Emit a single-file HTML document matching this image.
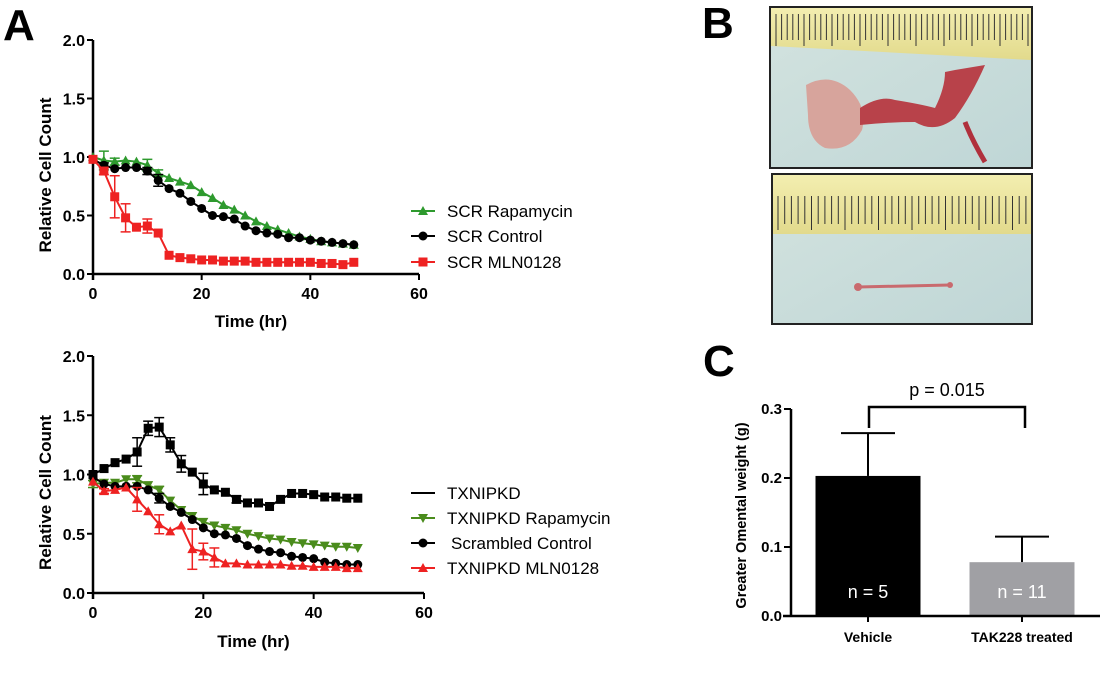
<!DOCTYPE html>
<html><head><meta charset="utf-8"><style>
body{margin:0;background:#fff;}
svg{display:block;font-family:"Liberation Sans",Arial,sans-serif;}
</style></head><body>
<svg id="fig" width="1100" height="673" viewBox="0 0 1100 673">
<defs>
<linearGradient id="cloth" x1="0" y1="0" x2="1" y2="1"><stop offset="0" stop-color="#d3e3df"/><stop offset="1" stop-color="#bfd6d6"/></linearGradient>
<linearGradient id="ruler" x1="0" y1="0" x2="0" y2="1"><stop offset="0" stop-color="#f3eeb0"/><stop offset="1" stop-color="#e2da8c"/></linearGradient>
</defs>
<text x="3" y="40" font-size="44" font-weight="bold">A</text>
<text x="702" y="38" font-size="44" font-weight="bold">B</text>
<text x="703" y="376" font-size="44" font-weight="bold">C</text>
<g>
<rect x="770" y="7" width="262" height="161" fill="url(#cloth)" stroke="#222" stroke-width="2"/>
<polygon points="771,8 1031,8 1031,60 771,46" fill="url(#ruler)"/>
<g id="rtick1" stroke="#333" stroke-width="1"></g>
<path d="M806,85 Q830,72 850,90 Q868,108 862,130 Q850,152 825,148 Q808,140 808,115 Z" fill="#d7a49c"/>
<path d="M860,108 Q880,95 895,100 Q920,104 935,108 Q945,88 945,72 L955,70 L985,65 Q972,95 955,118 Q935,134 915,122 Q890,122 860,125 Z" fill="#b8424a"/>
<path d="M965,122 Q972,140 985,162" stroke="#b0303c" stroke-width="5" fill="none"/>
</g>
<g>
<rect x="772" y="174" width="260" height="150" fill="url(#cloth)" stroke="#222" stroke-width="2"/>
<rect x="773" y="175" width="258" height="59" fill="url(#ruler)"/>
<g id="rtick2" stroke="#333" stroke-width="1"></g>
<path d="M858,287 L950,285" stroke="#c96a6e" stroke-width="3"/>
<circle cx="858" cy="287" r="4" fill="#c96a6e"/><circle cx="950" cy="285" r="3" fill="#c96a6e"/>
</g>
<g id="charts"></g>
</svg>
<script>
const NS="http://www.w3.org/2000/svg";
const times=[0,2,4,6,8,10,12,14,16,18,20,22,24,26,28,30,32,34,36,38,40,42,44,46,48];
const scrRapa=[1.0,0.97,0.96,0.97,0.96,0.93,0.86,0.82,0.79,0.76,0.70,0.65,0.59,0.55,0.50,0.45,0.41,0.38,0.35,0.32,0.30,0.28,0.27,0.26,0.25];
const scrRapaErr=[0,0.08,0.03,0,0,0.05,0.03,0,0,0,0,0,0,0,0,0,0,0,0,0,0,0,0,0,0];
const scrCtrl=[0.98,0.93,0.90,0.91,0.91,0.88,0.80,0.73,0.69,0.62,0.56,0.50,0.49,0.47,0.41,0.37,0.35,0.34,0.31,0.31,0.29,0.28,0.27,0.26,0.25];
const scrCtrlErr=[0,0.02,0,0,0,0.03,0.05,0,0,0,0,0,0,0,0,0,0,0,0,0,0,0,0,0,0];
const scrMln=[0.98,0.88,0.66,0.48,0.40,0.41,0.35,0.16,0.14,0.13,0.12,0.12,0.11,0.11,0.11,0.10,0.10,0.10,0.10,0.10,0.10,0.09,0.09,0.08,0.10];
const scrMlnErr=[0,0.03,0.18,0.12,0,0.06,0,0,0,0,0,0,0,0,0,0,0,0,0,0,0,0,0,0,0];
const kd=[1.0,1.05,1.10,1.13,1.19,1.39,1.40,1.25,1.09,1.02,0.92,0.87,0.85,0.79,0.76,0.76,0.73,0.79,0.84,0.84,0.83,0.81,0.81,0.80,0.80];
const kdErr=[0,0,0,0,0.12,0.06,0.08,0.06,0.07,0,0.09,0,0,0.03,0,0,0,0,0,0,0,0,0,0,0];
const kdRapa=[0.92,0.93,0.93,0.96,0.96,0.91,0.87,0.78,0.70,0.65,0.60,0.57,0.55,0.53,0.50,0.48,0.46,0.45,0.43,0.42,0.41,0.40,0.39,0.39,0.38];
const kdRapaErr=[0.03,0,0,0,0.03,0,0.03,0,0,0,0,0,0,0,0,0,0,0,0,0,0,0,0,0,0];
const scrambled=[0.98,0.92,0.90,0.90,0.90,0.87,0.80,0.73,0.68,0.62,0.55,0.50,0.49,0.46,0.40,0.37,0.35,0.34,0.31,0.30,0.29,0.26,0.25,0.24,0.24];
const scrambledErr=[0,0,0,0,0,0,0.04,0,0,0,0,0,0,0,0,0,0,0,0,0,0,0,0,0,0];
const kdMln=[0.94,0.86,0.87,0.89,0.79,0.69,0.58,0.52,0.57,0.37,0.35,0.30,0.25,0.25,0.24,0.24,0.24,0.24,0.23,0.23,0.22,0.22,0.22,0.21,0.21];
const kdMlnErr=[0,0.02,0,0,0.10,0,0.08,0,0,0.17,0.07,0.08,0,0,0,0,0,0,0,0,0,0,0,0,0];
const xTicks=[0,20,40,60];
const yTicks=[0.0,0.5,1.0,1.5,2.0];
const barCats=["Vehicle","TAK228 treated"];
const barVals=[0.203,0.078];
const barErr=[0.062,0.037];
const barN=["n = 5","n = 11"];
const barTicks=[0.0,0.1,0.2,0.3];

const root=document.getElementById('charts');
function mk(tag,attrs,parent,text){const e=document.createElementNS(NS,tag);for(const k in attrs)e.setAttribute(k,attrs[k]);if(text!==undefined)e.textContent=text;(parent||root).appendChild(e);return e;}

function ruler(id,x0,x1,y0,len,step){const g=document.getElementById(id);for(let x=x0,i=0;x<x1;x+=step,i++){mk('line',{x1:x,y1:y0,x2:x,y2:y0+(i%5==0?len+6:len)},g);}}
ruler('rtick1',776,1030,14,26,5.6);
ruler('rtick2',778,1030,196,28,6.7);

function marker(g,shape,x,y,c){
  if(shape==='circle')mk('circle',{cx:x,cy:y,r:4.5,fill:c},g);
  else if(shape==='square')mk('rect',{x:x-4.5,y:y-4.5,width:9,height:9,fill:c},g);
  else if(shape==='up')mk('polygon',{points:`${x},${y-5} ${x-5},${y+4} ${x+5},${y+4}`,fill:c},g);
  else if(shape==='down')mk('polygon',{points:`${x},${y+5} ${x-5},${y-4} ${x+5},${y-4}`,fill:c},g);
}

function lineChart(name,x0,x60,y0,y2,series,legend,titleDy){
  const g=mk('g',{});
  
  
  const sx=v=>x0+(x60-x0)*v/60, sy=v=>y0-(y0-y2)*v/2;
  mk('line',{x1:x0,y1:y2,x2:x0,y2:y0+6,stroke:'#000','stroke-width':2.5},g);
  mk('line',{x1:x0,y1:y0,x2:x60,y2:y0,stroke:'#000','stroke-width':2.5},g);
  yTicks.forEach(t=>{mk('line',{x1:x0-6,y1:sy(t),x2:x0,y2:sy(t),stroke:'#000','stroke-width':2},g);
    const tl=mk('text',{x:x0-8,y:sy(t)+6,'font-size':16,'font-weight':'bold','text-anchor':'end'},g,t.toFixed(1));
    });
  xTicks.forEach(t=>{mk('line',{x1:sx(t),y1:y0,x2:sx(t),y2:sy(0)+6,stroke:'#000','stroke-width':2},g);
    const tl=mk('text',{x:sx(t),y:y0+25,'font-size':16,'font-weight':'bold','text-anchor':'middle'},g,String(t));
    });
  const xt=mk('text',{x:(x0+x60)/2-5,y:y0+titleDy,'font-size':17,'font-weight':'bold','text-anchor':'middle'},g,'Time (hr)');
  
  const yc=(y0+y2)/2+18;
  const yt=mk('text',{x:0,y:0,'font-size':17,'font-weight':'bold','text-anchor':'middle',transform:`translate(51,${yc}) rotate(-90)`},g,'Relative Cell Count');
  
  series.forEach(s=>{
    const sg=mk('g',{},g);
    
    mk('polyline',{points:times.map((t,i)=>sx(t)+','+sy(s.v[i])).join(' '),fill:'none',stroke:s.c,'stroke-width':2},sg);
    times.forEach((t,i)=>{const e=s.e[i];if(e>0){const x=sx(t);
      mk('line',{x1:x,y1:sy(s.v[i]-e),x2:x,y2:sy(s.v[i]+e),stroke:s.c,'stroke-width':1.5},sg);
      [s.v[i]-e,s.v[i]+e].forEach(v=>mk('line',{x1:x-5,y1:sy(v),x2:x+5,y2:sy(v),stroke:s.c,'stroke-width':1.5},sg));}
      marker(sg,s.m,sx(t),sy(s.v[i]),s.c);});
  });
  legend.forEach(l=>{
    const lg=mk('g',{},g);
    
    mk('line',{x1:411,y1:l.y,x2:435,y2:l.y,stroke:l.c,'stroke-width':2},lg);
    if(l.m)marker(lg,l.m,423,l.y,l.c);
    mk('text',{x:l.tx||447,y:l.y+6,'font-size':17},lg,l.t);
  });
}

lineChart('chart-scr',93,419,274,40,[
 {id:'scr-rapamycin',v:scrRapa,e:scrRapaErr,c:'#2e9a2e',m:'up'},
 {id:'scr-control',v:scrCtrl,e:scrCtrlErr,c:'#000',m:'circle'},
 {id:'scr-mln0128',v:scrMln,e:scrMlnErr,c:'#ee2222',m:'square'}],
 [{y:211,c:'#2e9a2e',m:'up',t:'SCR Rapamycin'},{y:236,c:'#000',m:'circle',t:'SCR Control'},{y:262,c:'#ee2222',m:'square',t:'SCR MLN0128'}],53);

lineChart('chart-txnipkd',93,424,593,356,[
 {id:'txnipkd',v:kd,e:kdErr,c:'#000',m:'square'},
 {id:'txnipkd-rapamycin',v:kdRapa,e:kdRapaErr,c:'#4a8c1c',m:'down'},
 {id:'scrambled-control',v:scrambled,e:scrambledErr,c:'#000',m:'circle'},
 {id:'txnipkd-mln0128',v:kdMln,e:kdMlnErr,c:'#ee2222',m:'up'}],
 [{y:493,c:'#000',t:'TXNIPKD'},{y:518,c:'#4a8c1c',m:'down',t:'TXNIPKD Rapamycin'},{y:543,c:'#000',m:'circle',t:'Scrambled Control',tx:451},{y:568,c:'#ee2222',m:'up',t:'TXNIPKD MLN0128'}],54);

(function(){
  const g=mk('g',{});
  
  const x0=791,y0=616,ytop=409,sy=v=>y0-(y0-ytop)*v/0.3;
  const centers=[868,1022],bw=105,colors=['#000','#a0a0a4'];
  barVals.forEach((v,i)=>{
    const e=barErr[i],cx=centers[i];
    mk('line',{x1:cx,y1:sy(v),x2:cx,y2:sy(v+e),stroke:'#000','stroke-width':2},g);
    mk('line',{x1:cx-27,y1:sy(v+e),x2:cx+27,y2:sy(v+e),stroke:'#000','stroke-width':2},g);
    const b=mk('rect',{x:cx-bw/2,y:sy(v),width:bw,height:y0-sy(v),fill:colors[i]},g);
    
    mk('text',{x:cx,y:y0-18,'font-size':18,fill:'#fff','text-anchor':'middle'},g,barN[i]);
    mk('line',{x1:cx,y1:y0,x2:cx,y2:y0+6,stroke:'#000','stroke-width':2},g);
    const cl=mk('text',{x:cx,y:y0+26,'font-size':14,'font-weight':'bold','text-anchor':'middle'},g,barCats[i]);
    
  });
  mk('line',{x1:x0,y1:ytop,x2:x0,y2:y0,stroke:'#000','stroke-width':2.5},g);
  mk('line',{x1:x0-8,y1:y0,x2:1100,y2:y0,stroke:'#000','stroke-width':2.5},g);
  barTicks.forEach(t=>{mk('line',{x1:x0-7,y1:sy(t),x2:x0,y2:sy(t),stroke:'#000','stroke-width':2},g);
    mk('text',{x:x0-9,y:sy(t)+5,'font-size':15,'font-weight':'bold','text-anchor':'end'},g,t.toFixed(1));});
  const yt=mk('text',{x:0,y:0,'font-size':14.5,'font-weight':'bold','text-anchor':'middle',transform:`translate(746,${(y0+ytop)/2+3}) rotate(-90)`},g,'Greater Omental weight (g)');
  
  const br=mk('path',{d:`M869,428 L869,407 L1025,407 L1025,428`,fill:'none',stroke:'#000','stroke-width':2.5},g);
  
  const p=mk('text',{x:947,y:396,'font-size':18,'text-anchor':'middle'},g,'p = 0.015');
  
})();
</script>
</body></html>
